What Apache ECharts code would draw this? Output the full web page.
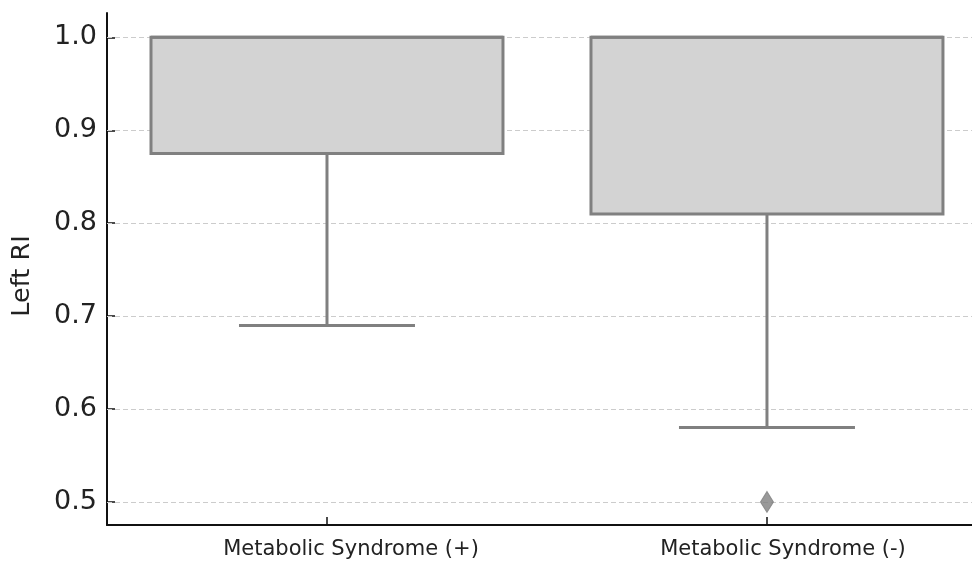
<!DOCTYPE html>
<html>
<head>
<meta charset="utf-8">
<script src="https://cdn.jsdelivr.net/npm/echarts@6/dist/echarts.min.js"></script>
<style>
html,body{margin:0;padding:0;background:#fff;}
#chart{width:972px;height:565px;}
</style>
</head>
<body>
<div id="chart"></div>
<script>
const categories = ['Metabolic Syndrome (+)', 'Metabolic Syndrome (-)'];
const catPositions = [0, 1];
// [min (lower whisker), Q1, median, Q3, max (upper whisker)]
const boxStats = [
  [0.69, 0.875, 1.0, 1.0, 1.0],
  [0.58, 0.81, 1.0, 1.0, 1.0]
];
// [category index, value]
const outliers = [[1, 0.5]];
const yTicks = [0.5, 0.6, 0.7, 0.8, 0.9, 1.0];
const yLabel = 'Left RI';

const chart = echarts.init(document.getElementById('chart'));
const stroke = '#808080';
const fill = '#d3d3d3';
const txt = '#222';

function renderBox(params, api) {
  const idx = api.value(0);
  const lo = api.value(1), q1 = api.value(2), med = api.value(3), q3 = api.value(4), hi = api.value(5);
  const band = api.size([1, 0])[0];
  const bw = band * 0.8;
  const cw = band * 0.4;
  const pLo = api.coord([idx, lo]);
  const pQ1 = api.coord([idx, q1]);
  const pMed = api.coord([idx, med]);
  const pQ3 = api.coord([idx, q3]);
  const pHi = api.coord([idx, hi]);
  const x = pQ1[0];
  const st = {stroke: stroke, lineWidth: 3, fill: null};
  return {
    type: 'group',
    children: [
      {type: 'line', shape: {x1: x, y1: pQ1[1], x2: x, y2: pLo[1]}, style: st},
      {type: 'line', shape: {x1: x - cw / 2, y1: pLo[1], x2: x + cw / 2, y2: pLo[1]}, style: st},
      {type: 'line', shape: {x1: x, y1: pQ3[1], x2: x, y2: pHi[1]}, style: st},
      {type: 'rect', shape: {x: x - bw / 2, y: pQ3[1], width: bw, height: pQ1[1] - pQ3[1]},
        style: {fill: fill, stroke: stroke, lineWidth: 3}},
      {type: 'line', shape: {x1: x - bw / 2, y1: pMed[1], x2: x + bw / 2, y2: pMed[1]}, style: st}
    ]
  };
}

const labFont = {fontFamily: 'DejaVu Sans', fontSize: 21, color: txt};

const option = {
  backgroundColor: '#fff',
  animation: false,
  grid: {left: 107, right: 0, top: 13, bottom: 40, containLabel: false},
  xAxis: {
    type: 'value',
    min: -0.5,
    max: 1.466,
    axisLine: {show: true, onZero: false, lineStyle: {color: '#111', width: 2}},
    axisTick: {show: true, inside: true, length: 8, customValues: catPositions, lineStyle: {color: '#111', width: 1.5}},
    axisLabel: {
      customValues: catPositions,
      margin: 14,
      formatter: v => (Math.round(v) === 0 ? '{a|' : '{b|') + categories[Math.round(v)] + '}',
      rich: {
        a: Object.assign({padding: [0, 0, 0, 48]}, labFont),
        b: Object.assign({padding: [0, 0, 0, 32]}, labFont)
      }
    },
    splitLine: {show: false}
  },
  yAxis: {
    type: 'value',
    min: 0.4752,
    max: 1.0262,
    name: yLabel,
    nameLocation: 'middle',
    nameGap: 72,
    nameTextStyle: {fontFamily: 'DejaVu Sans', fontSize: 25.5, color: txt, padding: [0, 14, 0, 0]},
    axisLine: {show: true, onZero: false, lineStyle: {color: '#111', width: 2}},
    axisTick: {show: true, inside: true, length: 8, customValues: yTicks, lineStyle: {color: '#111', width: 1.5}},
    axisLabel: {customValues: yTicks, fontFamily: 'DejaVu Sans', fontSize: 27, color: txt, margin: 10,
      formatter: v => v.toFixed(1)},
    splitLine: {show: false}
  },
  series: [
    {
      type: 'custom',
      renderItem: renderBox,
      data: boxStats.map((s, i) => [catPositions[i]].concat(s)),
      encode: {x: 0, y: [1, 2, 3, 4, 5]},
      z: 3,
      markLine: {
        silent: true,
        symbol: 'none',
        label: {show: false},
        z: 1,
        lineStyle: {color: '#cccccc', type: [5, 3], width: 1},
        data: yTicks.map(v => ({yAxis: v}))
      }
    },
    {
      type: 'scatter',
      data: outliers,
      symbol: 'diamond',
      symbolSize: [13, 21],
      itemStyle: {color: stroke, borderColor: stroke, borderWidth: 1},
      z: 10
    }
  ]
};
chart.setOption(option);
</script>
</body>
</html>
